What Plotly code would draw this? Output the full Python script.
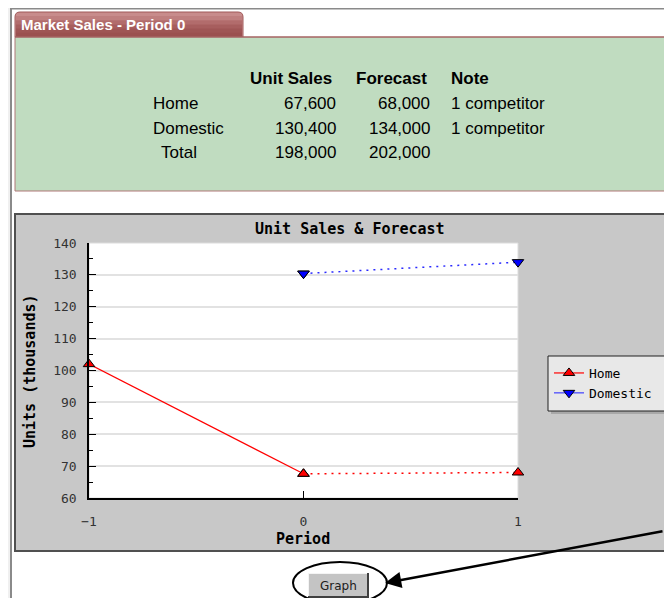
import plotly.graph_objects as go

# ---------------- data ----------------
regions = ["Home", "Domestic", "Total"]
unit_sales = [67600, 130400, 198000]
forecast = [68000, 134000, 202000]
notes = ["1 competitor", "1 competitor", ""]

periods_actual = [-1, 0]
home_actual = [102.0, 67.6]
periods_forecast = [0, 1]
home_forecast = [67.6, 68.0]
domestic_actual_period = [0]
domestic_actual = [130.4]
domestic_forecast = [130.4, 134.0]

x_ticks = [-1, 0, 1]
x_tick_text = ["\u22121", "0", "1"]

# the page body keeps an 8px margin, so the figure is 16px smaller than the window
OFF = 8
W, H = 672 - 2 * OFF, 606 - 2 * OFF


def px(x):
    return (x - OFF) / W


def py(y):
    return 1 - (y - OFF) / H


shapes = []
annotations = []


def rect(x0, y0, x1, y1, fill, line=None, lw=0, layer="below"):
    shapes.append(dict(type="rect", xref="paper", yref="paper",
                       x0=px(x0), x1=px(x1), y0=py(y1), y1=py(y0),
                       fillcolor=fill, layer=layer,
                       line=dict(width=lw, color=line if line else "rgba(0,0,0,0)")))


def hline(x0, x1, y, color, lw=1, layer="below"):
    shapes.append(dict(type="line", xref="paper", yref="paper",
                       x0=px(x0), x1=px(x1), y0=py(y), y1=py(y),
                       line=dict(color=color, width=lw), layer=layer))


def vline(x, y0, y1, color, lw=1, layer="below"):
    shapes.append(dict(type="line", xref="paper", yref="paper",
                       x0=px(x), x1=px(x), y0=py(y0), y1=py(y1),
                       line=dict(color=color, width=lw), layer=layer))


def text(x, y, s, size=17, family="Liberation Sans, Arial, sans-serif", color="black",
         bold=False, xanchor="left", textangle=0):
    annotations.append(dict(xref="paper", yref="paper", x=px(x), y=py(y),
                            text=("<b>%s</b>" % s) if bold else s, showarrow=False,
                            xanchor=xanchor, yanchor="middle", textangle=textangle,
                            borderpad=0, borderwidth=0,
                            font=dict(size=size, family=family, color=color)))


# page background strips and frame
rect(8, 8, 700, 700, "#f0f0f0")
rect(11, 8.5, 700, 700, "#ffffff", "#8a8a8a", 2)

# tab with rounded top corners and gradient bands
r = 5
tab_x0, tab_x1, tab_y0, tab_y1 = 15, 243, 12, 37
path = ("M %f,%f L %f,%f Q %f,%f %f,%f L %f,%f Q %f,%f %f,%f L %f,%f Z" % (
    px(tab_x0), py(tab_y1), px(tab_x0), py(tab_y0 + r),
    px(tab_x0), py(tab_y0), px(tab_x0 + r), py(tab_y0),
    px(tab_x1 - r), py(tab_y0), px(tab_x1), py(tab_y0), px(tab_x1), py(tab_y0 + r),
    px(tab_x1), py(tab_y1)))
shapes.append(dict(type="path", xref="paper", yref="paper", path=path,
                   fillcolor="#c88c8c", line=dict(color="#a05858", width=1), layer="below"))
band_cols = ["#bf7f7f", "#b26c6c", "#a75e5e", "#9f5555", "#9b5050"]
band_h = (tab_y1 - (tab_y0 + 4)) / len(band_cols)
for i, c in enumerate(band_cols):
    rect(tab_x0 + 1, tab_y0 + 4 + i * band_h, tab_x1 - 1, tab_y0 + 4 + (i + 1) * band_h + 0.5, c)
text(21, 24, "Market Sales - Period 0", size=15, color="white", bold=True)

# green panel
rect(15, 37, 700, 191, "#c0dcc0", "#b07878", 1)
hline(15, 700, 37, "#a05858", 1)

# table
text(250, 78, "Unit Sales", bold=True)
text(356, 78, "Forecast", bold=True)
text(451, 78, "Note", bold=True)
row_y = [103, 128, 152]
row_x = [153, 153, 161]
for i, name in enumerate(regions):
    text(row_x[i], row_y[i], name)
    text(336, row_y[i], "{:,}".format(unit_sales[i]), xanchor="right")
    text(430, row_y[i], "{:,}".format(forecast[i]), xanchor="right")
    if notes[i]:
        text(451, row_y[i], notes[i])

# chart panel
rect(15, 214, 700, 551, "#c8c8c8", "#505050", 2)
rect(89, 243, 518, 498, "#ffffff", "#dcdcdc", 1)

mono = "DejaVu Sans Mono, monospace"
text(350, 229, "Unit Sales &amp; Forecast", size=15, family=mono, bold=True, xanchor="center")
text(303, 539, "Period", size=15, family=mono, bold=True, xanchor="center")
annotations.append(dict(xref="paper", yref="paper", x=px(30), y=py(371),
                        text="<b>Units (thousands)</b>", showarrow=False, textangle=-90,
                        xanchor="center", yanchor="middle",
                        font=dict(size=15, family=mono, color="black")))

# legend box + shadow
rect(551, 359, 700, 414, "#a8a8a8")
rect(548, 356, 700, 411, "#e8e8e8", "#202020", 1)

# button, ellipse
rect(308, 573, 369, 598, "#c4c4c4", "#c4c4c4", 0)
hline(308, 369, 573.5, "#f4f4f4", 1)
vline(308.5, 573, 598, "#f4f4f4", 1)
hline(308, 369, 597, "#404040", 2)
vline(368, 573, 598, "#404040", 2)
text(338.5, 586, "Graph", size=12, family="DejaVu Sans, sans-serif", color="#202020", xanchor="center")
shapes.append(dict(type="circle", xref="paper", yref="paper",
                   x0=px(293), x1=px(387), y0=py(604), y1=py(562),
                   line=dict(color="black", width=2), layer="above"))
annotations.append(dict(xref="paper", yref="paper", x=px(385), y=py(583), text="",
                        showarrow=True, ax=300, ay=-52, arrowhead=2, arrowsize=1.3,
                        arrowwidth=2.5, arrowcolor="black", standoff=0))

# ---------------- traces ----------------
fig = go.Figure()
red = "#ff0000"
blue = "#2a2aff"
fig.add_trace(go.Scatter(x=periods_forecast, y=home_forecast, mode="lines+markers",
                         line=dict(color=red, width=1.5, dash="2px,5px"),
                         marker=dict(symbol="triangle-up", size=10, color=red,
                                     line=dict(color="black", width=1)),
                         showlegend=False, cliponaxis=False))
fig.add_trace(go.Scatter(x=periods_actual, y=home_actual, mode="lines+markers", name="Home",
                         line=dict(color=red, width=1.2),
                         marker=dict(symbol="triangle-up", size=10, color=red,
                                     line=dict(color="black", width=1)),
                         cliponaxis=False))
fig.add_trace(go.Scatter(x=periods_forecast, y=domestic_forecast, mode="lines+markers",
                         line=dict(color=blue, width=1.5, dash="2px,5px"),
                         marker=dict(symbol="triangle-down", size=10, color="#0000ff",
                                     line=dict(color="black", width=1)),
                         showlegend=False, cliponaxis=False))
fig.add_trace(go.Scatter(x=domestic_actual_period, y=domestic_actual, mode="lines+markers",
                         name="Domestic",
                         line=dict(color="#4040ff", width=1.2),
                         marker=dict(symbol="triangle-down", size=10, color="#0000ff",
                                     line=dict(color="black", width=1)),
                         cliponaxis=False))

fig.update_layout(
    width=W, height=H, margin=dict(l=0, r=0, t=0, b=0, pad=0, autoexpand=False),
    paper_bgcolor="white", plot_bgcolor="rgba(0,0,0,0)",
    shapes=shapes, annotations=annotations,
    showlegend=True,
    legend=dict(x=px(549), y=py(358), xanchor="left", yanchor="top",
                bgcolor="rgba(0,0,0,0)", borderwidth=0, traceorder="normal",
                font=dict(family=mono, size=13, color="black"), tracegroupgap=0),
    xaxis=dict(domain=[px(89), px(518)], range=[-1, 1], tickvals=x_ticks, ticktext=x_tick_text,
               ticks="inside", ticklen=7, tickcolor="black", showline=True, linecolor="black",
               linewidth=1.5, showgrid=False, zeroline=False, ticklabelstandoff=11,
               automargin=False,
               tickfont=dict(family=mono, size=13, color="#333333"), fixedrange=True),
    yaxis=dict(domain=[py(498), py(243)], range=[60, 140], dtick=10, ticks="inside", ticklen=7,
               tickcolor="black", showline=True, linecolor="black", linewidth=1.5,
               showgrid=True, gridcolor="#e2e2e2", gridwidth=1.5, zeroline=False,
               ticklabelstandoff=8, automargin=False,
               minor=dict(dtick=5, ticks="inside", ticklen=4, tickcolor="black", showgrid=False),
               tickfont=dict(family=mono, size=13, color="#333333"), fixedrange=True),
)

fig.write_html("out.html", config={"displayModeBar": False})
